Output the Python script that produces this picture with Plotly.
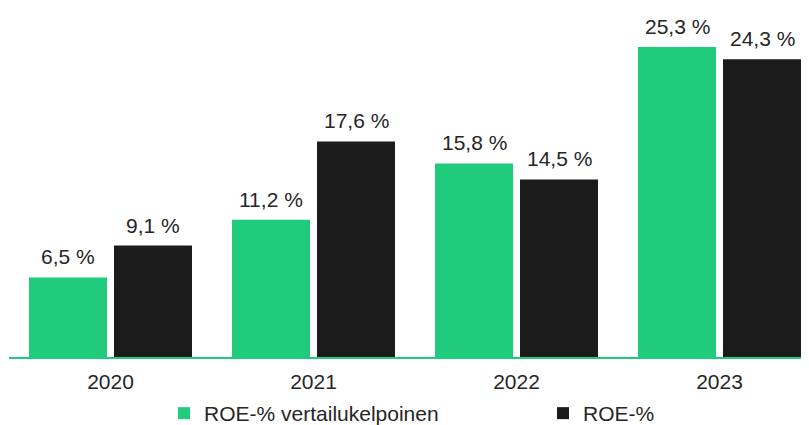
import plotly.graph_objects as go

years = ["2020", "2021", "2022", "2023"]
roe_benchmark = [6.5, 11.2, 15.8, 25.3]
roe = [9.1, 17.6, 14.5, 24.3]
series_names = ["ROE-% vertailukelpoinen", "ROE-%"]

GREEN = "#20CB7B"
BLACK = "#1B1B1B"
TEXT = "#262626"
FONT = "Arial, Liberation Sans, sans-serif"
BARGAP = 0.1626
BARGROUPGAP = 0.0824


def fmt(v):
    return f"{v:.1f}".replace(".", ",") + " %"


fig = go.Figure()
fig.add_trace(go.Bar(x=years, y=roe_benchmark, name=series_names[0], legend="legend",
                     marker=dict(color=GREEN, line=dict(width=0))))
fig.add_trace(go.Bar(x=years, y=roe, name=series_names[1], legend="legend2",
                     marker=dict(color=BLACK, line=dict(width=0))))

# value labels above each bar (offset = centre of each bar slot within group)
half_slot = (1 - BARGAP) / 4
annotations = []
for series, sign in ((roe_benchmark, -1), (roe, 1)):
    for i, v in enumerate(series):
        annotations.append(dict(x=i + sign * half_slot, y=v, xref="x", yref="y",
                                text=fmt(v), showarrow=False, yanchor="bottom",
                                yshift=7, font=dict(size=21, color=TEXT, family=FONT)))

leg_common = dict(orientation="h", yanchor="middle", y=0.0276,
                  xref="container", yref="container",
                  font=dict(size=21, color=TEXT, family=FONT),
                  bgcolor="rgba(0,0,0,0)", borderwidth=0)

# the page body adds an 8 px offset, so the figure is sized to end at the window edge
fig.update_layout(
    width=801, height=417,
    margin=dict(l=1, r=0, t=2, b=68),
    paper_bgcolor="white", plot_bgcolor="white",
    barmode="group", bargap=BARGAP, bargroupgap=BARGROUPGAP,
    font=dict(family=FONT, size=21, color=TEXT),
    showlegend=True,
    legend=dict(x=0.1948, xanchor="left", **leg_common),
    legend2=dict(x=0.6679, xanchor="left", **leg_common),
    annotations=annotations,
    xaxis=dict(type="category", range=[-0.5, 3.5 - 12 / 203], showline=True,
               linecolor=GREEN, linewidth=2, showgrid=False, ticks="",
               ticklabelstandoff=5, automargin=False,
               tickfont=dict(size=21, color=TEXT, family=FONT), fixedrange=True),
    yaxis=dict(range=[0, 347 / 12.25], visible=False, showgrid=False, zeroline=False,
               automargin=False),
)

fig.write_html("out.html")
